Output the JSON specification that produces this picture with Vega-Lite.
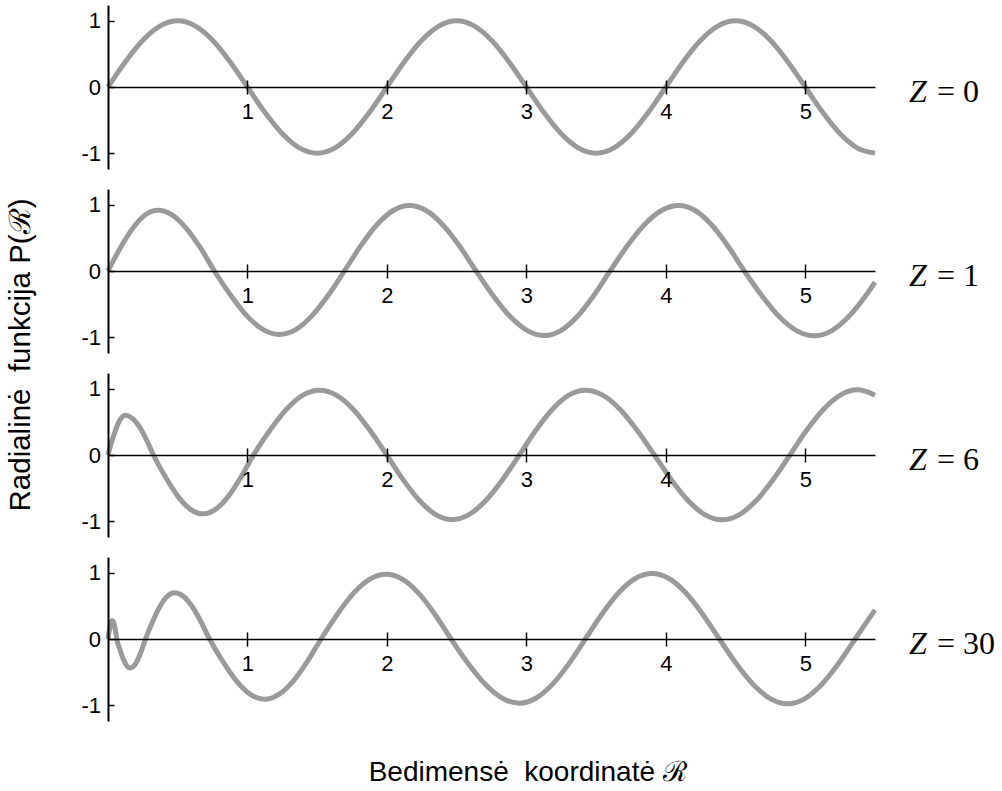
{
  "$schema": "https://vega.github.io/schema/vega-lite/v6.json",
  "background": "white",
  "padding": {"left": 6, "top": 5, "right": 5, "bottom": 5},
  "config": {
    "view": {"stroke": null},
    "title": {"font": "Liberation Sans", "fontSize": 28, "fontWeight": "normal", "color": "black"},
    "concat": {"spacing": 20}
  },
  "title": {"text": "Bedimensė\u00a0 koordinatė ℛ", "orient": "bottom", "anchor": "middle", "offset": 38, "dx": 27},
  "datasets": {
    "z0": [
      {"x":0,"y":0},{"x":0.125,"y":0.383},{"x":0.25,"y":0.707},{"x":0.375,"y":0.924},{"x":0.5,"y":1},{"x":0.625,"y":0.924},{"x":0.75,"y":0.707},{"x":0.875,"y":0.383},
      {"x":1,"y":0},{"x":1.125,"y":-0.383},{"x":1.25,"y":-0.707},{"x":1.375,"y":-0.924},{"x":1.5,"y":-1},{"x":1.625,"y":-0.924},{"x":1.75,"y":-0.707},{"x":1.875,"y":-0.383},
      {"x":2,"y":0},{"x":2.125,"y":0.383},{"x":2.25,"y":0.707},{"x":2.375,"y":0.924},{"x":2.5,"y":1},{"x":2.625,"y":0.924},{"x":2.75,"y":0.707},{"x":2.875,"y":0.383},
      {"x":3,"y":0},{"x":3.125,"y":-0.383},{"x":3.25,"y":-0.707},{"x":3.375,"y":-0.924},{"x":3.5,"y":-1},{"x":3.625,"y":-0.924},{"x":3.75,"y":-0.707},{"x":3.875,"y":-0.383},
      {"x":4,"y":0},{"x":4.125,"y":0.383},{"x":4.25,"y":0.707},{"x":4.375,"y":0.924},{"x":4.5,"y":1},{"x":4.625,"y":0.924},{"x":4.75,"y":0.707},{"x":4.875,"y":0.383},
      {"x":5,"y":0},{"x":5.125,"y":-0.383},{"x":5.25,"y":-0.707},{"x":5.375,"y":-0.924},{"x":5.5,"y":-1}
    ],
    "z1": [
      {"x":0,"y":0},{"x":0.089,"y":0.352},{"x":0.179,"y":0.65},{"x":0.268,"y":0.85},{"x":0.357,"y":0.92},{"x":0.459,"y":0.85},{"x":0.56,"y":0.65},{"x":0.662,"y":0.352},
      {"x":0.763,"y":0},{"x":0.88,"y":-0.368},{"x":0.996,"y":-0.679},{"x":1.113,"y":-0.887},{"x":1.229,"y":-0.96},{"x":1.346,"y":-0.887},{"x":1.462,"y":-0.679},{"x":1.579,"y":-0.368},
      {"x":1.695,"y":0},{"x":1.812,"y":0.379},{"x":1.928,"y":0.7},{"x":2.045,"y":0.915},{"x":2.161,"y":0.99},{"x":2.281,"y":0.915},{"x":2.4,"y":0.7},{"x":2.52,"y":0.379},
      {"x":2.639,"y":0},{"x":2.762,"y":-0.373},{"x":2.884,"y":-0.689},{"x":3.007,"y":-0.901},{"x":3.129,"y":-0.975},{"x":3.247,"y":-0.901},{"x":3.365,"y":-0.689},{"x":3.482,"y":-0.373},
      {"x":3.6,"y":0},{"x":3.723,"y":0.379},{"x":3.846,"y":0.7},{"x":3.969,"y":0.915},{"x":4.092,"y":0.99},{"x":4.21,"y":0.915},{"x":4.328,"y":0.7},{"x":4.445,"y":0.379},
      {"x":4.563,"y":0},{"x":4.689,"y":-0.375},{"x":4.814,"y":-0.693},{"x":4.94,"y":-0.905},{"x":5.065,"y":-0.98},{"x":5.188,"y":-0.905},{"x":5.31,"y":-0.693},{"x":5.433,"y":-0.375},
      {"x":5.5,"y":-0.17}
    ],
    "z6": [
      {"x":0,"y":0},{"x":0.031,"y":0.23},{"x":0.0625,"y":0.424},{"x":0.094,"y":0.554},{"x":0.125,"y":0.6},{"x":0.175,"y":0.554},{"x":0.226,"y":0.424},{"x":0.276,"y":0.23},
      {"x":0.326,"y":0},{"x":0.4145,"y":-0.341},{"x":0.503,"y":-0.629},{"x":0.5915,"y":-0.822},{"x":0.68,"y":-0.89},{"x":0.771,"y":-0.822},{"x":0.8615,"y":-0.629},{"x":0.952,"y":-0.341},
      {"x":1.043,"y":0},{"x":1.161,"y":0.375},{"x":1.28,"y":0.693},{"x":1.398,"y":0.906},{"x":1.516,"y":0.98},{"x":1.637,"y":0.906},{"x":1.758,"y":0.693},{"x":1.878,"y":0.375},
      {"x":1.999,"y":0},{"x":2.116,"y":-0.373},{"x":2.233,"y":-0.689},{"x":2.35,"y":-0.901},{"x":2.467,"y":-0.975},{"x":2.588,"y":-0.901},{"x":2.709,"y":-0.689},{"x":2.829,"y":-0.373},
      {"x":2.95,"y":0},{"x":3.068,"y":0.375},{"x":3.187,"y":0.693},{"x":3.305,"y":0.906},{"x":3.423,"y":0.98},{"x":3.547,"y":0.906},{"x":3.671,"y":0.693},{"x":3.794,"y":0.375},
      {"x":3.918,"y":0},{"x":4.039,"y":-0.375},{"x":4.161,"y":-0.693},{"x":4.282,"y":-0.906},{"x":4.403,"y":-0.98},{"x":4.525,"y":-0.906},{"x":4.647,"y":-0.693},{"x":4.768,"y":-0.375},
      {"x":4.89,"y":0},{"x":5.011,"y":0.377},{"x":5.133,"y":0.696},{"x":5.254,"y":0.91},{"x":5.375,"y":0.985},{"x":5.5,"y":0.905}
    ],
    "z30": [
      {"x":0,"y":0},{"x":0.0075,"y":0.107},{"x":0.015,"y":0.198},{"x":0.0225,"y":0.259},{"x":0.03,"y":0.28},{"x":0.038,"y":0.259},{"x":0.0465,"y":0.198},{"x":0.055,"y":0.107},
      {"x":0.063,"y":0},{"x":0.087,"y":-0.169},{"x":0.111,"y":-0.311},{"x":0.135,"y":-0.407},{"x":0.159,"y":-0.44},{"x":0.1865,"y":-0.407},{"x":0.214,"y":-0.311},{"x":0.2415,"y":-0.169},
      {"x":0.269,"y":0},{"x":0.321,"y":0.268},{"x":0.373,"y":0.495},{"x":0.425,"y":0.647},{"x":0.477,"y":0.7},{"x":0.54,"y":0.647},{"x":0.6025,"y":0.495},{"x":0.665,"y":0.268},
      {"x":0.728,"y":0},{"x":0.8265,"y":-0.349},{"x":0.925,"y":-0.643},{"x":1.0235,"y":-0.841},{"x":1.122,"y":-0.91},{"x":1.2235,"y":-0.841},{"x":1.325,"y":-0.643},{"x":1.4265,"y":-0.349},
      {"x":1.528,"y":0},{"x":1.6445,"y":0.375},{"x":1.761,"y":0.693},{"x":1.8775,"y":0.906},{"x":1.994,"y":0.98},{"x":2.1105,"y":0.906},{"x":2.227,"y":0.693},{"x":2.3435,"y":0.375},
      {"x":2.46,"y":0},{"x":2.5825,"y":-0.372},{"x":2.705,"y":-0.686},{"x":2.8275,"y":-0.896},{"x":2.95,"y":-0.97},{"x":3.068,"y":-0.896},{"x":3.1865,"y":-0.686},{"x":3.305,"y":-0.372},
      {"x":3.423,"y":0},{"x":3.5425,"y":0.379},{"x":3.662,"y":0.7},{"x":3.7815,"y":0.915},{"x":3.901,"y":0.99},{"x":4.022,"y":0.915},{"x":4.1425,"y":0.7},{"x":4.263,"y":0.379},
      {"x":4.384,"y":0},{"x":4.506,"y":-0.375},{"x":4.6285,"y":-0.693},{"x":4.751,"y":-0.906},{"x":4.873,"y":-0.98},{"x":4.994,"y":-0.906},{"x":5.1155,"y":-0.693},{"x":5.237,"y":-0.375},
      {"x":5.358,"y":0},{"x":5.43,"y":0.226},{"x":5.5,"y":0.44}
    ]
  },
  "vconcat": [
    {
      "title": {"text": "Radialinė\u00a0 funkcija P(ℛ)", "orient": "left", "anchor": "middle", "offset": 44, "fontSize": 29.5, "dx": 8},
      "spacing": 20,
      "vconcat": [
        {
          "width": 767, "height": 164,
          "layer": [
            {
              "data": {"name": "z0"},
              "mark": {"type": "line", "color": "#9a9a9a", "strokeWidth": 5, "interpolate": "monotone", "strokeCap": "butt"},
              "encoding": {
                "x": {"field": "x", "type": "quantitative", "scale": {"domain": [0, 5.5], "nice": false, "zero": false},
                  "axis": {"orient": "bottom", "offset": -82, "values": [1, 2, 3, 4, 5], "format": "d", "title": null, "grid": false, "domainColor": "black", "domainWidth": 1.5, "tickColor": "black", "tickWidth": 1.5, "tickSize": 7, "labelPadding": 7, "labelFont": "Liberation Sans", "labelFontSize": 22, "labelColor": "black", "zindex": 1}},
                "y": {"field": "y", "type": "quantitative", "scale": {"domain": [-1.24, 1.24], "nice": false},
                  "axis": {"orient": "left", "values": [-1, 0, 1], "format": "d", "title": null, "grid": false, "domainColor": "black", "domainWidth": 2, "tickColor": "black", "tickWidth": 1.5, "tickSize": -6, "labelPadding": 13.5, "labelFont": "Liberation Sans", "labelFontSize": 22, "labelColor": "black", "labelExpr": "replace(datum.label, '−', '-')", "zindex": 1}}
              }
            },
            {
              "data": {"values": [{"sym": "Z", "rest": "= 0"}]},
              "mark": {"type": "text", "font": "Liberation Serif", "fontStyle": "italic", "fontSize": 32, "align": "left", "baseline": "alphabetic", "dx": 34, "dy": 14.5, "color": "black"},
              "encoding": {
                "x": {"datum": 5.5, "type": "quantitative", "axis": {"orient": "top", "offset": -82, "values": [1, 2, 3, 4, 5], "labels": false, "domain": false, "title": null, "grid": false, "tickColor": "black", "tickWidth": 1.5, "tickSize": 7, "zindex": 1}},
                "y": {"datum": 0, "type": "quantitative"},
                "text": {"field": "sym"}
              }
            },
            {
              "data": {"values": [{"sym": "Z", "rest": "= 0"}]},
              "mark": {"type": "text", "font": "Liberation Serif", "fontSize": 32, "align": "left", "baseline": "alphabetic", "dx": 62, "dy": 14.5, "color": "black"},
              "encoding": {
                "x": {"datum": 5.5, "type": "quantitative", "axis": null},
                "y": {"datum": 0, "type": "quantitative"},
                "text": {"field": "rest"}
              }
            }
          ],
          "resolve": {"axis": {"x": "independent"}}
        },
        {
          "width": 767, "height": 164,
          "layer": [
            {
              "data": {"name": "z1"},
              "mark": {"type": "line", "color": "#9a9a9a", "strokeWidth": 5, "interpolate": "monotone", "strokeCap": "butt"},
              "encoding": {
                "x": {"field": "x", "type": "quantitative", "scale": {"domain": [0, 5.5], "nice": false, "zero": false},
                  "axis": {"orient": "bottom", "offset": -82, "values": [1, 2, 3, 4, 5], "format": "d", "title": null, "grid": false, "domainColor": "black", "domainWidth": 1.5, "tickColor": "black", "tickWidth": 1.5, "tickSize": 7, "labelPadding": 7, "labelFont": "Liberation Sans", "labelFontSize": 22, "labelColor": "black", "zindex": 1}},
                "y": {"field": "y", "type": "quantitative", "scale": {"domain": [-1.24, 1.24], "nice": false},
                  "axis": {"orient": "left", "values": [-1, 0, 1], "format": "d", "title": null, "grid": false, "domainColor": "black", "domainWidth": 2, "tickColor": "black", "tickWidth": 1.5, "tickSize": -6, "labelPadding": 13.5, "labelFont": "Liberation Sans", "labelFontSize": 22, "labelColor": "black", "labelExpr": "replace(datum.label, '−', '-')", "zindex": 1}}
              }
            },
            {
              "data": {"values": [{"sym": "Z", "rest": "= 1"}]},
              "mark": {"type": "text", "font": "Liberation Serif", "fontStyle": "italic", "fontSize": 32, "align": "left", "baseline": "alphabetic", "dx": 34, "dy": 14.5, "color": "black"},
              "encoding": {
                "x": {"datum": 5.5, "type": "quantitative", "axis": {"orient": "top", "offset": -82, "values": [1, 2, 3, 4, 5], "labels": false, "domain": false, "title": null, "grid": false, "tickColor": "black", "tickWidth": 1.5, "tickSize": 7, "zindex": 1}},
                "y": {"datum": 0, "type": "quantitative"},
                "text": {"field": "sym"}
              }
            },
            {
              "data": {"values": [{"sym": "Z", "rest": "= 1"}]},
              "mark": {"type": "text", "font": "Liberation Serif", "fontSize": 32, "align": "left", "baseline": "alphabetic", "dx": 62, "dy": 14.5, "color": "black"},
              "encoding": {
                "x": {"datum": 5.5, "type": "quantitative", "axis": null},
                "y": {"datum": 0, "type": "quantitative"},
                "text": {"field": "rest"}
              }
            }
          ],
          "resolve": {"axis": {"x": "independent"}}
        },
        {
          "width": 767, "height": 164,
          "layer": [
            {
              "data": {"name": "z6"},
              "mark": {"type": "line", "color": "#9a9a9a", "strokeWidth": 5, "interpolate": "monotone", "strokeCap": "butt"},
              "encoding": {
                "x": {"field": "x", "type": "quantitative", "scale": {"domain": [0, 5.5], "nice": false, "zero": false},
                  "axis": {"orient": "bottom", "offset": -82, "values": [1, 2, 3, 4, 5], "format": "d", "title": null, "grid": false, "domainColor": "black", "domainWidth": 1.5, "tickColor": "black", "tickWidth": 1.5, "tickSize": 7, "labelPadding": 7, "labelFont": "Liberation Sans", "labelFontSize": 22, "labelColor": "black", "zindex": 1}},
                "y": {"field": "y", "type": "quantitative", "scale": {"domain": [-1.24, 1.24], "nice": false},
                  "axis": {"orient": "left", "values": [-1, 0, 1], "format": "d", "title": null, "grid": false, "domainColor": "black", "domainWidth": 2, "tickColor": "black", "tickWidth": 1.5, "tickSize": -6, "labelPadding": 13.5, "labelFont": "Liberation Sans", "labelFontSize": 22, "labelColor": "black", "labelExpr": "replace(datum.label, '−', '-')", "zindex": 1}}
              }
            },
            {
              "data": {"values": [{"sym": "Z", "rest": "= 6"}]},
              "mark": {"type": "text", "font": "Liberation Serif", "fontStyle": "italic", "fontSize": 32, "align": "left", "baseline": "alphabetic", "dx": 34, "dy": 14.5, "color": "black"},
              "encoding": {
                "x": {"datum": 5.5, "type": "quantitative", "axis": {"orient": "top", "offset": -82, "values": [1, 2, 3, 4, 5], "labels": false, "domain": false, "title": null, "grid": false, "tickColor": "black", "tickWidth": 1.5, "tickSize": 7, "zindex": 1}},
                "y": {"datum": 0, "type": "quantitative"},
                "text": {"field": "sym"}
              }
            },
            {
              "data": {"values": [{"sym": "Z", "rest": "= 6"}]},
              "mark": {"type": "text", "font": "Liberation Serif", "fontSize": 32, "align": "left", "baseline": "alphabetic", "dx": 62, "dy": 14.5, "color": "black"},
              "encoding": {
                "x": {"datum": 5.5, "type": "quantitative", "axis": null},
                "y": {"datum": 0, "type": "quantitative"},
                "text": {"field": "rest"}
              }
            }
          ],
          "resolve": {"axis": {"x": "independent"}}
        },
        {
          "width": 767, "height": 164,
          "layer": [
            {
              "data": {"name": "z30"},
              "mark": {"type": "line", "color": "#9a9a9a", "strokeWidth": 5, "interpolate": "monotone", "strokeCap": "butt"},
              "encoding": {
                "x": {"field": "x", "type": "quantitative", "scale": {"domain": [0, 5.5], "nice": false, "zero": false},
                  "axis": {"orient": "bottom", "offset": -82, "values": [1, 2, 3, 4, 5], "format": "d", "title": null, "grid": false, "domainColor": "black", "domainWidth": 1.5, "tickColor": "black", "tickWidth": 1.5, "tickSize": 7, "labelPadding": 7, "labelFont": "Liberation Sans", "labelFontSize": 22, "labelColor": "black", "zindex": 1}},
                "y": {"field": "y", "type": "quantitative", "scale": {"domain": [-1.24, 1.24], "nice": false},
                  "axis": {"orient": "left", "values": [-1, 0, 1], "format": "d", "title": null, "grid": false, "domainColor": "black", "domainWidth": 2, "tickColor": "black", "tickWidth": 1.5, "tickSize": -6, "labelPadding": 13.5, "labelFont": "Liberation Sans", "labelFontSize": 22, "labelColor": "black", "labelExpr": "replace(datum.label, '−', '-')", "zindex": 1}}
              }
            },
            {
              "data": {"values": [{"sym": "Z", "rest": "= 30"}]},
              "mark": {"type": "text", "font": "Liberation Serif", "fontStyle": "italic", "fontSize": 32, "align": "left", "baseline": "alphabetic", "dx": 34, "dy": 14.5, "color": "black"},
              "encoding": {
                "x": {"datum": 5.5, "type": "quantitative", "axis": {"orient": "top", "offset": -82, "values": [1, 2, 3, 4, 5], "labels": false, "domain": false, "title": null, "grid": false, "tickColor": "black", "tickWidth": 1.5, "tickSize": 7, "zindex": 1}},
                "y": {"datum": 0, "type": "quantitative"},
                "text": {"field": "sym"}
              }
            },
            {
              "data": {"values": [{"sym": "Z", "rest": "= 30"}]},
              "mark": {"type": "text", "font": "Liberation Serif", "fontSize": 32, "align": "left", "baseline": "alphabetic", "dx": 62, "dy": 14.5, "color": "black"},
              "encoding": {
                "x": {"datum": 5.5, "type": "quantitative", "axis": null},
                "y": {"datum": 0, "type": "quantitative"},
                "text": {"field": "rest"}
              }
            }
          ],
          "resolve": {"axis": {"x": "independent"}}
        }
      ]
    }
  ]
}
